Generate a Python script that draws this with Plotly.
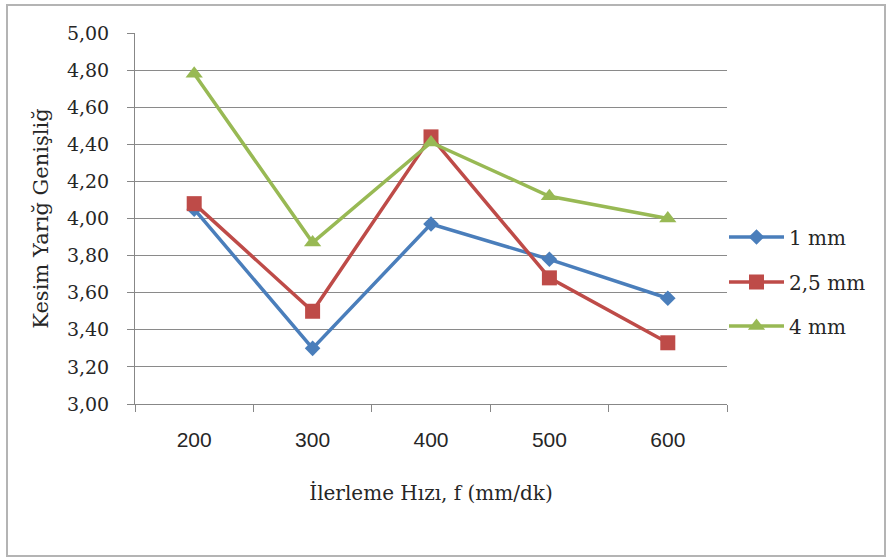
import plotly.graph_objects as go

# Feed rate categories (mm/dk)
feed_rates = ["200", "300", "400", "500", "600"]

# Kerf width per cutting depth
kerf_1mm = [4.05, 3.30, 3.97, 3.78, 3.57]
kerf_2_5mm = [4.08, 3.50, 4.44, 3.68, 3.33]
kerf_4mm = [4.78, 3.87, 4.41, 4.12, 4.00]

series_names = ["1 mm", "2,5 mm", "4 mm"]
y_ticks = [3.0, 3.2, 3.4, 3.6, 3.8, 4.0, 4.2, 4.4, 4.6, 4.8, 5.0]
y_tick_text = [f"{v:.2f}".replace(".", ",") for v in y_ticks]

W, H = 888, 559
L, R, T, B = 135, 161, 33, 155
pw, ph = W - L - R, H - T - B

def px_to_paper_x(px):
    return (px - L) / pw

def px_to_paper_y(py):
    return (H - B - py) / ph

serif = "DejaVu Serif, serif"
sans = "Liberation Sans, Arial, sans-serif"
text_col = "#262626"

fig = go.Figure()
styles = [
    ("#4A7EBB", "diamond", 12),
    ("#BE4B48", "square", 15),
    ("#98B954", "triangle-up", 15),
]
legend_ids = ["legend", "legend2", "legend3"]
legend_rows = [237, 282, 326]
for name, vals, (col, sym, sz), lg in zip(series_names, [kerf_1mm, kerf_2_5mm, kerf_4mm], styles, legend_ids):
    fig.add_trace(go.Scatter(
        x=feed_rates, y=vals, name=name, mode="lines+markers",
        line=dict(color=col, width=3.5),
        marker=dict(symbol=sym, size=sz, color=col),
        legend=lg,
    ))

# outer chart frame
fig.add_shape(type="rect", xref="paper", yref="paper",
              x0=px_to_paper_x(7), x1=px_to_paper_x(885),
              y0=px_to_paper_y(556), y1=px_to_paper_y(5),
              line=dict(color="#b4b4b4", width=2), layer="below")

legend_style = dict(
    xanchor="left", yanchor="middle",
    font=dict(family=serif, size=20, color=text_col),
    itemwidth=55, bgcolor="rgba(0,0,0,0)", borderwidth=0,
)

fig.update_layout(
    width=W, height=H,
    margin=dict(l=L, r=R, t=T, b=B),
    paper_bgcolor="white", plot_bgcolor="white",
    showlegend=True,
    xaxis=dict(
        type="category", tickson="boundaries",
        showgrid=False, showline=True, linecolor="#878787", linewidth=1,
        ticks="outside", ticklen=7, tickcolor="#878787",
        tickfont=dict(family=sans, size=21, color=text_col),
        ticklabelstandoff=17,
        title=dict(text="İlerleme Hızı, f (mm/dk)", font=dict(family=serif, size=20, color=text_col),
                   standoff=35),
        range=[-0.5, 4.5],
    ),
    yaxis=dict(
        range=[3.0, 5.0], tickvals=y_ticks, ticktext=y_tick_text,
        showgrid=True, gridcolor="#8a8a8a", gridwidth=1,
        showline=True, linecolor="#878787", linewidth=1,
        ticks="outside", ticklen=7, tickcolor="#878787",
        tickfont=dict(family=serif, size=19, color=text_col),
        ticklabelstandoff=14,
        zeroline=False,
        title=dict(text="Kesim Yarığ Genişliğ", font=dict(family=serif, size=21, color=text_col),
                   standoff=12),
    ),
)
for lg, row in zip(legend_ids, legend_rows):
    fig.update_layout({lg: dict(x=px_to_paper_x(724), y=px_to_paper_y(row), **legend_style)})

fig.write_html("out.html")
